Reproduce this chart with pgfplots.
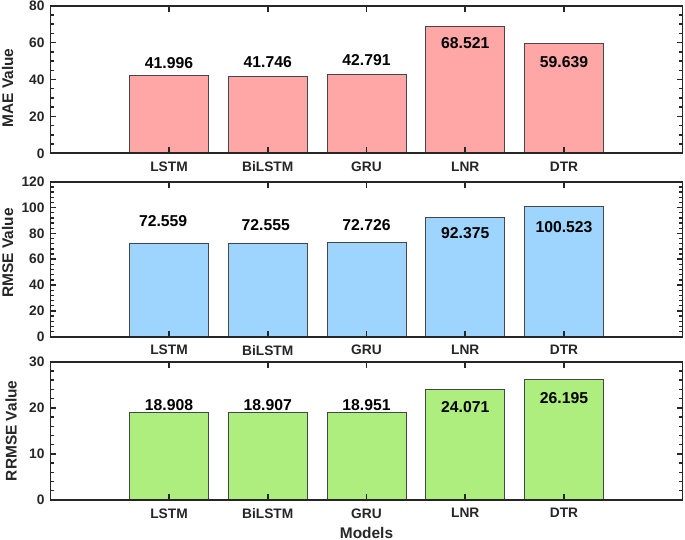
\documentclass[border=0pt]{standalone}
\usepackage{pgfplots}
\pgfplotsset{compat=1.18}
\usepackage{fontspec}
\setmainfont{Liberation Sans}
\definecolor{maecol}{RGB}{255,166,166}
\definecolor{rmsecol}{RGB}{157,213,255}
\definecolor{rrmsecol}{RGB}{173,238,126}
\definecolor{axcol}{RGB}{38,38,38}
\definecolor{edgecol}{RGB}{70,70,70}
\pgfplotsset{
  panel/.style={
    scale only axis, width=632bp,
    xmin=-1.2, xmax=5.2, ymin=0,
    xtick={0,1,2,3,4}, xticklabels={LSTM,BiLSTM,GRU,LNR,DTR},
    minor x tick num=0,
    tick align=inside,
    axis on top,
    /pgf/number format/assume math mode=true,
    axis line style={axcol, line width=1.9bp},
    major tick style={axcol, line width=1.6bp},
    minor tick style={axcol, line width=1.4bp},
    major tick length=6bp, minor tick length=3.5bp,
    ticklabel style={font=\fontsize{13.8}{14}\selectfont\bfseries, text=axcol},
    yticklabel style={xshift=-2.5bp},
    xticklabel style={yshift=-5bp},
    label style={font=\fontsize{15.5}{16}\selectfont\bfseries, text=axcol},
  },
  barlab/.style={draw=none, mark=none, nodes near coords, point meta=explicit symbolic,
    every node near coord/.style={anchor=center, inner sep=0pt,
      font=\fontsize{15.8}{16}\selectfont\bfseries, text=black}},
}
\begin{document}
\begin{tikzpicture}
\useasboundingbox (0,0) rectangle (685bp,-540bp);
% MAE
\begin{axis}[panel, at={(50.5bp,-5.7bp)}, anchor=north west, height=147.6bp,
  ymax=80, ytick={0,20,40,60,80}, minor y tick num=3,
  ylabel={MAE Value},
  ylabel style={at={(axis description cs:-0.068,0.442)}, anchor=center}]
\addplot[ybar, bar width=0.8, fill=maecol, draw=edgecol, line width=0.8bp]
  coordinates {(0,41.996) (1,41.746) (2,42.791) (3,68.521) (4,59.639)};
\addplot[barlab] table[x=x, y=y, meta=lab] {
x y lab
0 48.8 41.996
1 49.6 41.746
2 50.6 42.791
3 59.9 68.521
4 49.3 59.639
};
\end{axis}
% RMSE
\begin{axis}[panel, at={(50.5bp,-181.7bp)}, anchor=north west, height=155bp,
  ymax=120, ytick={0,20,40,60,80,100,120}, minor y tick num=4,
  ylabel={RMSE Value},
  ylabel style={at={(axis description cs:-0.068,0.54)}, anchor=center}]
\addplot[ybar, bar width=0.8, fill=rmsecol, draw=edgecol, line width=0.8bp]
  coordinates {(0,72.559) (1,72.555) (2,72.726) (3,92.375) (4,100.523)};
\addplot[barlab] table[x=x, y=y, meta=lab] {
x y lab
-0.06 89.4 72.559
0.98 86.1 72.555
2 86.3 72.726
3 80.0 92.375
4 84.5 100.523
};
\end{axis}
% RRMSE
\begin{axis}[panel, at={(50.5bp,-361.7bp)}, anchor=north west, height=138.3bp,
  ymax=30, ytick={0,10,20,30}, minor y tick num=4,
  ylabel={RRMSE Value}, xlabel={Models},
  ylabel style={at={(axis description cs:-0.0625,0.5)}, anchor=center},
  xlabel style={at={(axis description cs:0.5,0)}, anchor=center, yshift=-32.7bp}]
\addplot[ybar, bar width=0.8, fill=rrmsecol, draw=edgecol, line width=0.8bp]
  coordinates {(0,18.908) (1,18.907) (2,18.951) (3,24.071) (4,26.195)};
\addplot[barlab] table[x=x, y=y, meta=lab] {
x y lab
0 20.5 18.908
1 20.5 18.907
2 20.6 18.951
3 20.2 24.071
4 22.2 26.195
};
\end{axis}
\end{tikzpicture}
\end{document}
